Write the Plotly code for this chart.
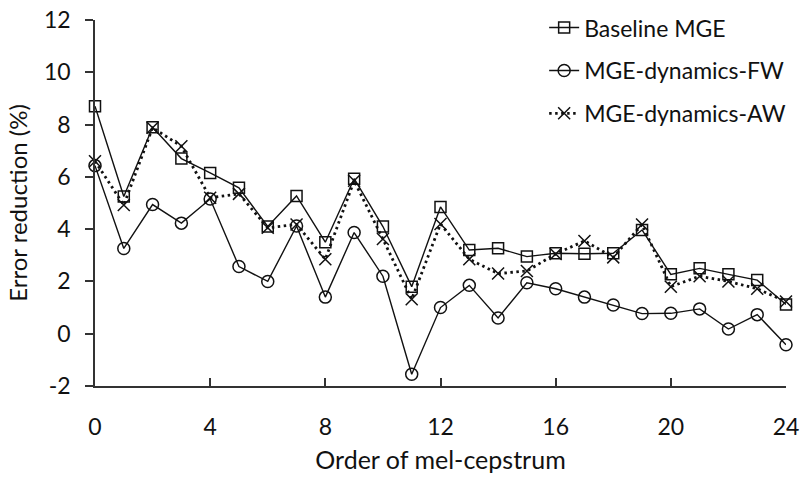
import plotly.graph_objects as go

orders = list(range(25))
baseline_mge = [8.7, 5.25, 7.9, 6.7, 6.15, 5.58, 4.1, 5.27, 3.5, 5.93, 4.1, 1.8, 4.85,
                3.2, 3.27, 2.95, 3.08, 3.06, 3.08, 3.97, 2.27, 2.5, 2.27, 2.05, 1.12]
mge_fw = [6.43, 3.26, 4.94, 4.23, 5.15, 2.57, 2.0, 4.12, 1.4, 3.87, 2.2, -1.55, 1.0,
          1.85, 0.6, 1.95, 1.72, 1.4, 1.1, 0.77, 0.78, 0.95, 0.18, 0.73, -0.42]
mge_aw = [6.6, 4.92, 7.88, 7.17, 5.2, 5.35, 4.05, 4.18, 2.85, 5.85, 3.62, 1.32, 4.2,
          2.85, 2.3, 2.4, 3.05, 3.55, 2.92, 4.18, 1.8, 2.2, 2.0, 1.72, 1.23]
y_ticks = [-2, 0, 2, 4, 6, 8, 10, 12]
y_tick_labels = ["-2", "0", "2", "4", "6", "8", "10", "12"]
x_ticks = [0, 4, 8, 12, 16, 20, 24]

FONT = "Lato"
INK = "#111111"

fig = go.Figure()
fig.add_trace(go.Scatter(
    x=orders, y=baseline_mge, name="Baseline MGE", mode="lines+markers",
    legendgroup="a", cliponaxis=False,
    line=dict(color=INK, width=1.4),
    marker=dict(symbol="square-open", size=11, color=INK, line=dict(width=1.5, color=INK)),
))
fig.add_trace(go.Scatter(
    x=orders, y=mge_fw, name="MGE-dynamics-FW", mode="lines+markers",
    legendgroup="b", cliponaxis=False,
    line=dict(color=INK, width=1.4),
    marker=dict(symbol="circle-open", size=12, color=INK, line=dict(width=1.5, color=INK)),
))
fig.add_trace(go.Scatter(
    x=orders, y=mge_aw, name="MGE-dynamics-AW", mode="lines+markers",
    legendgroup="c", cliponaxis=False,
    line=dict(color=INK, width=2.8, dash="2.5px,3.5px"),
    marker=dict(symbol="x-thin-open", size=12, color=INK, line=dict(width=1.5, color=INK)),
))

fig.update_layout(
    width=804, height=477,
    margin=dict(l=95, r=18, t=20, b=91, autoexpand=False),
    paper_bgcolor="white", plot_bgcolor="white",
    font=dict(family=FONT, size=23, color=INK),
    showlegend=True,
    legend=dict(
        x=0.65, y=1.038, xanchor="left", yanchor="top",
        bgcolor="rgba(0,0,0,0)", font=dict(family=FONT, size=23, color=INK),
        tracegroupgap=10, itemwidth=30,
    ),
    xaxis=dict(
        range=[0, 24], tickvals=x_ticks, ticks="inside", ticklen=8, tickwidth=1.5,
        tickcolor="#333333", showline=True, linecolor="#333333", linewidth=1.5,
        showgrid=False, zeroline=False, ticklabelstandoff=20, automargin=False,
        tickfont=dict(family=FONT, size=23, color=INK),
        title=dict(text="Order of mel-cepstrum", font=dict(family=FONT, size=25, color=INK), standoff=12),
    ),
    yaxis=dict(
        range=[-2, 12], tickvals=y_ticks, ticktext=y_tick_labels, ticks="outside", ticklen=8,
        tickwidth=1.5, automargin=False,
        tickcolor="#333333", showline=True, linecolor="#333333", linewidth=1.5,
        showgrid=False, zeroline=False, ticklabelstandoff=10,
        tickfont=dict(family=FONT, size=23, color=INK),
        title=dict(text="Error reduction (%)", font=dict(family=FONT, size=24, color=INK), standoff=10),
    ),
)

fig.write_html("out.html")
